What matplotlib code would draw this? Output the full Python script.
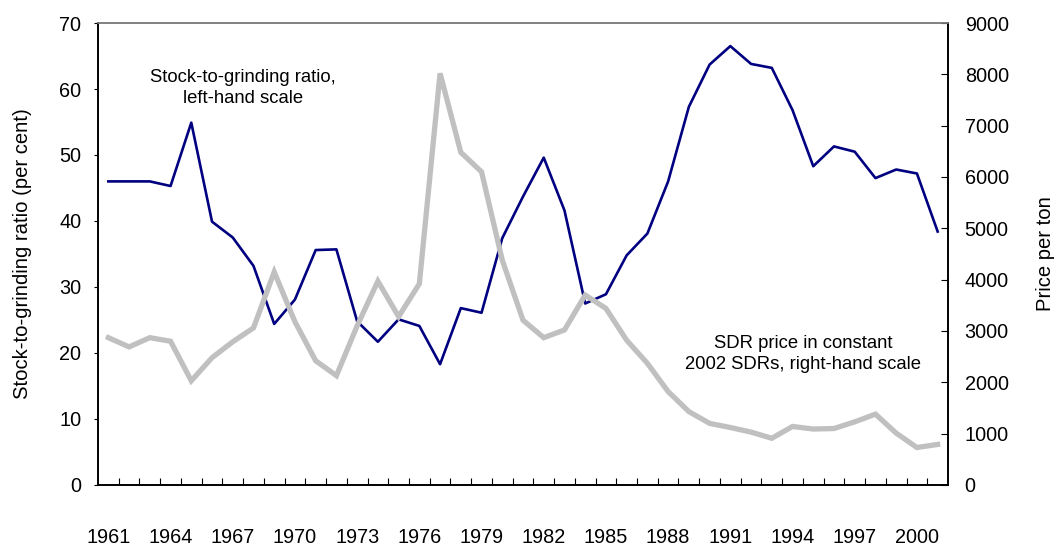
import matplotlib.pyplot as plt

plt.rcParams['font.family'] = ['Liberation Sans', 'DejaVu Sans']

# Données
years = list(range(1961, 2002))
ratio = [46.0, 46.0, 46.0, 45.3, 54.9, 39.9, 37.5, 33.2, 24.4, 28.1,
         35.6, 35.7, 24.8, 21.7, 25.1, 24.1, 18.3, 26.8, 26.1, 37.4,
         43.7, 49.6, 41.6, 27.5, 28.9, 34.8, 38.1, 46.0, 57.3, 63.7,
         66.5, 63.8, 63.2, 56.8, 48.3, 51.3, 50.5, 46.5, 47.8, 47.2,
         38.4]
price = [2870, 2690, 2870, 2800, 2030, 2480, 2790, 3060, 4150, 3180,
         2420, 2130, 3100, 3970, 3280, 3920, 8020, 6480, 6100, 4380,
         3210, 2870, 3020, 3700, 3440, 2820, 2370, 1820, 1430, 1200,
         1120, 1030, 910, 1140, 1090, 1100, 1230, 1380, 1010, 730,
         790]
label_years = list(range(1961, 2001, 3))

fig = plt.figure(figsize=(10.57, 5.49), dpi=100)
ax = fig.add_axes([0.0927, 0.1166, 0.8042, 0.8415])
ax2 = ax.twinx()

ax.plot(years, ratio, color='#000080', lw=1.9, zorder=2)
ax2.plot(years, price, color='#C0C0C0', lw=3.8, solid_joinstyle='miter')

ax.set_xlim(1960.5, 2001.5)
ax.set_ylim(0, 70)
ax2.set_ylim(0, 9000)
ax.set_yticks(range(0, 71, 10))
ax2.set_yticks(range(0, 9001, 1000))

# graduations entre les années, étiquettes centrées sur les années
ax.set_xticks([y + 0.5 for y in years[:-1]])
ax.set_xticklabels([])
ax.tick_params(axis='x', which='major', direction='in', length=5, color='black')
ax.set_xticks(label_years, minor=True)
ax.set_xticklabels([str(y) for y in label_years], minor=True, fontsize=14.3)
ax.tick_params(axis='x', which='minor', length=0, pad=31)

ax.tick_params(axis='y', direction='out', length=3, labelsize=14.3, pad=9)
ax2.tick_params(axis='y', direction='in', length=5, labelsize=14.3, pad=12)

ax.set_ylabel('Stock-to-grinding ratio (per cent)', fontsize=14.6)
ax.yaxis.set_label_coords(-0.0776, 0.5)
ax2.set_ylabel('Price per ton', fontsize=14.6, rotation=90)
ax2.yaxis.set_label_coords(1.104, 0.5)

for a in (ax, ax2):
    for s in ('left', 'bottom', 'right'):
        a.spines[s].set_color('black')
        a.spines[s].set_linewidth(1.2)
    a.spines['top'].set_color('#808080')
    a.spines['top'].set_linewidth(1.2)

ax.text(1967.5, 60.2, 'Stock-to-grinding ratio,\nleft-hand scale',
        ha='center', va='center', fontsize=13.3, linespacing=1.3)
ax.text(1994.5, 19.8, 'SDR price in constant\n2002 SDRs, right-hand scale',
        ha='center', va='center', fontsize=13.3, linespacing=1.3)

fig.savefig('out.png', dpi=100)
